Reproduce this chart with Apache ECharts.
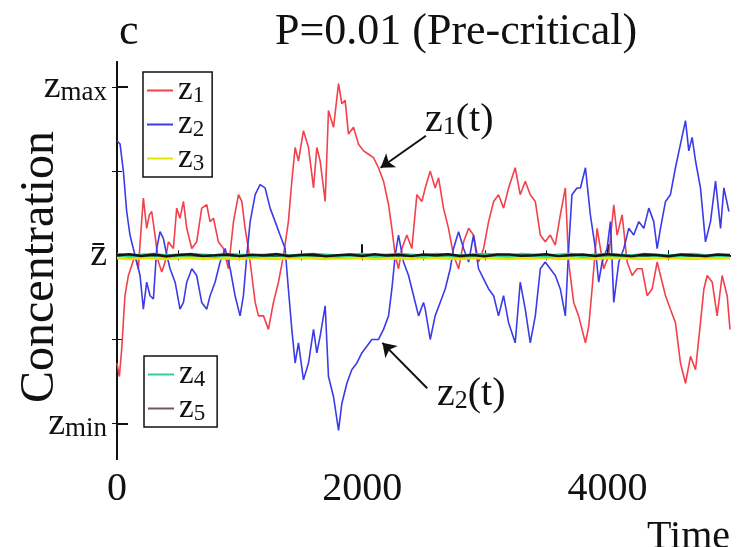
<!DOCTYPE html>
<html><head><meta charset="utf-8">
<script src="https://cdn.jsdelivr.net/npm/echarts@6/dist/echarts.min.js"></script>
<style>html,body{margin:0;padding:0;background:#fff}#c{width:740px;height:547px}</style>
</head><body><div id="c"></div>
<script>
// ---- data (time, normalized concentration; 0 = z̄, 1 = zmax, -1 = zmin)
const z1Time = [0,19,38,65,93,120,147,174,193,215,242,264,283,310,338,365,392,419,460,487,514,542,569,610,650,691,732,759,787,827,868,909,950,991,1018,1045,1072,1100,1127,1154,1195,1235,1276,1317,1358,1398,1426,1453,1480,1521,1562,1603,1630,1657,1698,1725,1766,1807,1834,1861,1888,1929,1970,2011,2052,2092,2133,2174,2215,2242,2269,2296,2324,2364,2405,2446,2487,2514,2555,2595,2623,2663,2704,2745,2786,2827,2868,2908,2949,2990,3031,3072,3112,3153,3194,3248,3289,3330,3371,3412,3453,3493,3534,3575,3616,3657,3684,3725,3765,3780,3821,3848,3875,3916,3943,3970,4011,4052,4079,4120,4161,4202,4242,4283,4324,4365,4406,4433,4474,4514,4555,4596,4637,4678,4719,4759,4787,4814,4855,4895,4936,4977,5000];
const z1Vals = [-0.64,-0.72,-0.56,-0.24,-0.12,-0.06,0.0,-0.08,0.12,0.34,0.16,0.24,0.26,0.12,-0.04,-0.10,-0.04,0.08,0.04,0.28,0.22,0.32,0.16,0.04,0.08,0.28,0.30,0.20,0.22,0.08,0.04,-0.08,0.20,0.36,0.32,0.16,0.04,-0.12,-0.28,-0.36,-0.36,-0.44,-0.28,-0.16,0.0,0.20,0.44,0.64,0.56,0.74,0.64,0.40,0.64,0.56,0.32,0.86,0.76,1.02,0.90,0.92,0.72,0.76,0.66,0.62,0.60,0.58,0.52,0.44,0.30,0.16,0.0,-0.08,0.04,0.12,0.04,0.36,0.32,0.40,0.50,0.40,0.46,0.28,0.16,0.0,-0.08,0.08,0.16,0.12,-0.04,0.04,0.20,0.32,0.36,0.28,0.40,0.52,0.36,0.44,0.36,0.32,0.12,0.08,0.12,0.06,0.24,0.40,-0.04,-0.28,-0.36,-0.36,-0.52,-0.42,-0.20,0.16,0.04,-0.08,0.0,0.30,0.12,0.24,-0.04,-0.12,-0.08,-0.08,-0.24,-0.20,-0.04,-0.12,-0.24,-0.32,-0.40,-0.64,-0.76,-0.60,-0.68,-0.40,-0.20,-0.12,-0.16,-0.36,-0.12,-0.24,-0.44];

const z2Time = [0,25,52,79,106,133,161,188,215,242,270,297,324,351,378,406,433,474,514,542,569,610,650,691,732,759,800,841,882,923,963,1004,1031,1059,1086,1127,1167,1208,1249,1290,1330,1371,1398,1426,1453,1480,1521,1562,1603,1630,1657,1698,1725,1766,1807,1834,1875,1915,1956,1997,2038,2079,2133,2174,2215,2242,2269,2296,2337,2378,2419,2460,2500,2514,2555,2595,2636,2677,2718,2745,2786,2827,2868,2908,2949,2990,3031,3072,3112,3153,3194,3248,3289,3330,3371,3412,3453,3493,3534,3575,3616,3657,3684,3711,3752,3780,3821,3861,3902,3929,3957,3997,4025,4052,4093,4134,4174,4215,4256,4297,4338,4378,4406,4433,4474,4514,4555,4596,4637,4664,4691,4719,4759,4800,4841,4882,4923,4950,4991];
const z2Vals = [0.68,0.66,0.50,0.26,0.12,0.04,-0.04,-0.12,-0.32,-0.16,-0.24,-0.26,0.04,0.14,0.10,0.0,-0.08,-0.16,-0.32,-0.28,-0.16,-0.08,-0.12,-0.28,-0.32,-0.24,-0.16,-0.04,0.04,-0.08,-0.24,-0.36,-0.24,0.0,0.20,0.36,0.42,0.40,0.28,0.20,0.12,0.04,-0.20,-0.44,-0.64,-0.52,-0.74,-0.64,-0.44,-0.58,-0.48,-0.30,-0.72,-0.84,-1.04,-0.88,-0.76,-0.68,-0.64,-0.58,-0.54,-0.50,-0.50,-0.44,-0.36,-0.20,0.0,0.12,-0.04,-0.12,-0.24,-0.36,-0.28,-0.32,-0.50,-0.36,-0.28,-0.20,-0.08,0.04,0.14,0.04,-0.04,0.12,-0.08,-0.14,-0.20,-0.24,-0.36,-0.24,-0.40,-0.52,-0.16,-0.32,-0.52,-0.36,-0.08,-0.04,-0.08,-0.12,-0.20,-0.36,0.04,0.36,0.40,0.40,0.52,0.24,0.04,-0.16,-0.04,0.04,0.20,-0.28,-0.04,0.04,0.16,0.12,0.20,0.16,0.28,0.20,0.04,0.16,0.32,0.36,0.52,0.66,0.80,0.62,0.70,0.56,0.40,0.08,0.20,0.44,0.16,0.40,0.26];

// near-mean components (thin band around z̄)
const bandTime = [0,100,200,300,400,500,600,700,800,900,1000,1100,1200,1300,1400,1500,1600,1700,1800,1900,2000,2100,2200,2300,2400,2500,2600,2700,2800,2900,3000,3100,3200,3300,3400,3500,3600,3700,3800,3900,4000,4100,4200,4300,4400,4500,4600,4700,4800,4900,5000];
const z3Vals = [-0.016,-0.02,-0.014,-0.018,-0.02,-0.016,-0.014,-0.02,-0.018,-0.016,-0.02,-0.014,-0.018,-0.02,-0.016,-0.014,-0.018,-0.02,-0.016,-0.018,-0.014,-0.02,-0.016,-0.018,-0.02,-0.014,-0.016,-0.018,-0.02,-0.016,-0.014,-0.018,-0.02,-0.016,-0.018,-0.014,-0.02,-0.016,-0.018,-0.02,-0.014,-0.016,-0.018,-0.02,-0.016,-0.014,-0.018,-0.02,-0.016,-0.018,-0.016];
const z4Vals = [0.004,-0.004,0.0,0.004,-0.004,0.0,0.004,0.0,-0.004,0.004,0.0,-0.004,0.0,0.004,-0.004,0.0,0.004,0.0,-0.004,0.0,0.004,-0.004,0.0,0.004,0.0,-0.004,0.004,0.0,-0.004,0.0,0.004,0.0,-0.004,0.004,0.0,-0.004,0.0,0.004,-0.004,0.0,0.004,0.0,-0.004,0.004,0.0,-0.004,0.0,0.004,-0.004,0.0,0.0];
const z5Vals = [0.0,0.006,-0.004,0.004,-0.006,0.002,0.006,-0.004,0.0,0.005,-0.005,0.003,-0.002,0.006,-0.004,0.002,0.005,-0.006,0.0,0.004,-0.004,0.006,-0.002,0.003,-0.005,0.004,0.0,0.006,-0.004,0.002,-0.006,0.004,0.005,-0.003,0.0,0.006,-0.005,0.002,0.004,-0.004,0.006,0.0,-0.005,0.004,0.002,-0.006,0.005,0.0,-0.004,0.004,0.0];

const xLabelValues = [0, 2000, 4000];
const yLabelValues = [-1, 0, 1];

const pair = (t, v) => t.map((x, i) => [x, v[i]]);
const FONT = 'Liberation Serif';
const AX = '#111';

const chart = echarts.init(document.getElementById('c'));
const legendRich = {
  z: {fontFamily: FONT, fontSize: 33, color: '#111', lineHeight: 32},
  s: {fontFamily: FONT, fontSize: 23, color: '#111', verticalAlign: 'bottom', padding: [10, 0, 0, 0]}
};
const legendFmt = n => '{z|z}{s|' + n.slice(1) + '}';
const minorTicks = [500,1000,1500,2000,2500,3000,3500,4000,4500];

chart.setOption({
  animation: false,
  backgroundColor: '#fff',
  grid: {left: 117, right: 10, top: 62, bottom: 88, containLabel: false, outerBoundsMode: 'none'},
  title: [
    {text: 'c', left: 114, top: 5, textStyle: {fontFamily: FONT, fontSize: 44, fontWeight: 'normal', color: '#111'}},
    {text: 'P=0.01 (Pre-critical)', left: 270, top: 5, textStyle: {fontFamily: FONT, fontSize: 44, fontWeight: 'normal', color: '#111'}}
  ],
  legend: [
    {data: ['z1','z2','z3'], orient: 'vertical', left: 143, top: 72, itemWidth: 26, itemHeight: 2, itemGap: 1,
     icon: 'rect', borderColor: '#111', borderWidth: 1.5, padding: [2, 8, 2, 4], formatter: legendFmt,
     textStyle: {rich: legendRich}},
    {data: ['z4', {name: 'z5', itemStyle: {color: '#6d5a60'}}], orient: 'vertical', left: 144, top: 356, itemWidth: 26, itemHeight: 2, itemGap: 1,
     icon: 'rect', borderColor: '#111', borderWidth: 1.5, padding: [2, 12, 2, 4], formatter: legendFmt,
     textStyle: {rich: legendRich}}
  ],
  xAxis: [
    {type: 'value', min: 0, max: 5000, position: 'bottom',
     axisLine: {show: true, lineStyle: {color: AX, width: 2}},
     axisTick: {show: true, inside: true, length: 11, customValues: [2000, 4000], lineStyle: {color: AX, width: 2}},
     axisLabel: {customValues: xLabelValues, formatter: v => String(v), fontFamily: FONT, fontSize: 40, color: '#111', margin: 10},
     splitLine: {show: false}},
    {type: 'value', min: 0, max: 5000, position: 'bottom',
     axisLine: {show: false}, axisLabel: {show: false}, splitLine: {show: false},
     axisTick: {show: true, inside: true, length: 5, customValues: minorTicks, lineStyle: {color: AX, width: 1}}},
    {type: 'value', min: 0, max: 5000, position: 'top',
     axisLine: {show: true, lineStyle: {color: AX, width: 2}}, axisLabel: {show: false}, splitLine: {show: false},
     axisTick: {show: true, inside: true, length: 5, customValues: minorTicks, lineStyle: {color: AX, width: 1}}}
  ],
  yAxis: [
    {type: 'value', min: -1.21, max: 1.148, position: 'left',
     axisLine: {show: true, lineStyle: {color: AX, width: 2}},
     axisTick: {show: true, inside: true, length: 11, customValues: [-1, 1], lineStyle: {color: AX, width: 2}},
     axisLabel: {customValues: yLabelValues, margin: 10,
       formatter: v => v > 0.5 ? '{z|z}{s|max}' : (v < -0.5 ? '{z|z}{s|min}' : '{z|z\u0304}'),
       rich: {z: {fontFamily: FONT, fontSize: 38, color: '#111'},
              s: {fontFamily: FONT, fontSize: 27, color: '#111', verticalAlign: 'bottom', padding: [8, 0, 0, 0]}}},
     splitLine: {show: false}},
    {type: 'value', min: -1.21, max: 1.148, position: 'left',
     axisLine: {show: false}, axisLabel: {show: false}, splitLine: {show: false},
     axisTick: {show: true, inside: true, length: 5, customValues: [-0.5, 0.5], lineStyle: {color: AX, width: 1}}},
    {type: 'value', min: -1.21, max: 1.148, position: 'right',
     axisLine: {show: true, lineStyle: {color: AX, width: 2}}, axisLabel: {show: false}, splitLine: {show: false},
     axisTick: {show: true, inside: true, length: 5, customValues: [-1, -0.5, 0.5, 1], lineStyle: {color: AX, width: 1}}}
  ],
  series: [
    {name: 'z1', type: 'line', data: pair(z1Time, z1Vals), showSymbol: false, symbol: 'none',
     lineStyle: {color: '#f2404c', width: 1.6}, itemStyle: {color: '#f2404c'},
     markLine: {silent: true, symbol: ['none', 'arrow'], symbolSize: 13, label: {show: false},
       lineStyle: {color: '#111', width: 2, type: 'solid'},
       data: [[{coord: [2520, 0.71]}, {coord: [2150, 0.52]}]]}},
    {name: 'z2', type: 'line', data: pair(z2Time, z2Vals), showSymbol: false, symbol: 'none',
     lineStyle: {color: '#3b3be8', width: 1.6}, itemStyle: {color: '#3b3be8'},
     markLine: {silent: true, symbol: ['none', 'arrow'], symbolSize: 13, label: {show: false},
       lineStyle: {color: '#111', width: 2, type: 'solid'},
       data: [[{coord: [2530, -0.79]}, {coord: [2165, -0.52]}]]}},
    {name: 'z3', type: 'line', data: pair(bandTime, z3Vals), showSymbol: false, symbol: 'none',
     lineStyle: {color: '#e2e600', width: 3}, itemStyle: {color: '#e2e600'}},
    {name: 'z4', type: 'line', data: pair(bandTime, z4Vals), showSymbol: false, symbol: 'none',
     lineStyle: {color: '#2fcf98', width: 3.5}, itemStyle: {color: '#2fcf98'}},
    {name: 'z5', type: 'line', data: pair(bandTime, z5Vals), showSymbol: false, symbol: 'none',
     lineStyle: {color: '#151515', width: 2.5}, itemStyle: {color: '#151515'}}
  ],
  graphic: [
    {type: 'text', x: 40, y: 267, rotation: Math.PI / 2, style: {text: 'Concentration', fontFamily: FONT, fontSize: 48,
      fill: '#111', align: 'center', verticalAlign: 'middle'}},
    {type: 'text', left: 425, top: 100, style: {text: '{z|z}{s|1}{z|(t)}', rich: {
      z: {fontFamily: FONT, fontSize: 40, fill: '#111'},
      s: {fontFamily: FONT, fontSize: 26, fill: '#111', verticalAlign: 'bottom', padding: [12, 0, 0, 0]}}}},
    {type: 'text', left: 437, top: 374, style: {text: '{z|z}{s|2}{z|(t)}', rich: {
      z: {fontFamily: FONT, fontSize: 40, fill: '#111'},
      s: {fontFamily: FONT, fontSize: 26, fill: '#111', verticalAlign: 'bottom', padding: [12, 0, 0, 0]}}}},
    {type: 'text', right: 10, top: 517, style: {text: 'Time', fontFamily: FONT, fontSize: 40, fill: '#111'}}
  ]
});
</script></body></html>
